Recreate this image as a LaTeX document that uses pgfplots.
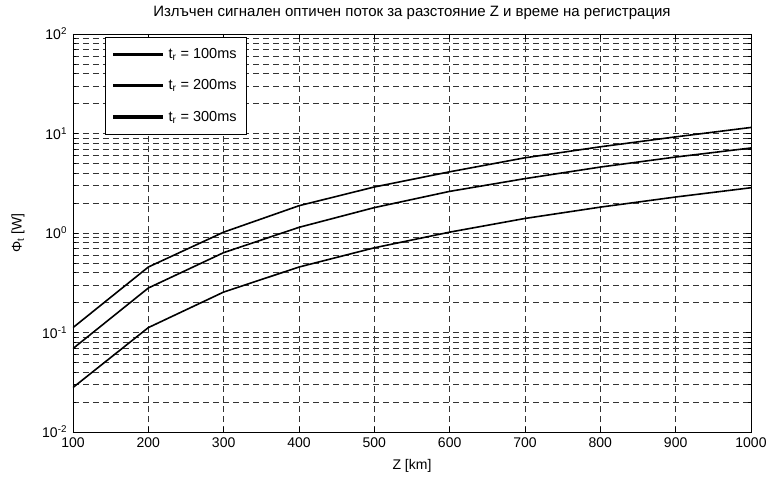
\documentclass[border=0pt]{standalone}
\usepackage{fontspec}
\setmainfont{Liberation Sans}
\usepackage{pgfplots}
\pgfplotsset{compat=1.18}

\pgfplotstableread{
Z     a      b      c
100   0.112  0.069  0.0280
200   0.455  0.280  0.112
300   1.02   0.635  0.255
400   1.88   1.14   0.455
500   2.90   1.80   0.710
600   4.12   2.62   1.02
700   5.70   3.52   1.40
800   7.35   4.60   1.82
900   9.25   5.80   2.30
1000  11.5   7.15   2.85
}\flux

\begin{document}
\fontsize{14.5}{17}\selectfont
\begin{tikzpicture}[x=1pt,y=1pt]
\useasboundingbox (-73,-47) rectangle (696,432);
\begin{axis}[
  scale only axis,
  width=678pt, height=398pt,
  at={(0,0)}, anchor=south west,
  ymode=log,
  xmin=100, xmax=1000, ymin=0.01, ymax=100,
  xtick={100,200,...,1000},
  ytick={0.01,0.1,1,10,100},
  yticklabels={10\textsuperscript{-2},10\textsuperscript{-1},10\textsuperscript{0},10\textsuperscript{1},10\textsuperscript{2}},
  minor ytick={0.02,0.03,0.04,0.05,0.06,0.07,0.08,0.09,0.2,0.3,0.4,0.5,0.6,0.7,0.8,0.9,2,3,4,5,6,7,8,9,20,30,40,50,60,70,80,90},
  /pgf/number format/assume math mode=true,
  /pgf/number format/1000 sep={},
  tick align=inside,
  major tick length=5pt, minor tick length=3pt,
  tick style={black, line width=0.6pt},
  axis line style={black, line width=0.9pt},
  grid=both,
  major grid style={black!80, dash pattern=on 6pt off 4pt, line width=0.6pt},
  minor grid style={black!80, dash pattern=on 6pt off 4pt, line width=0.6pt},
  tick label style={font=\fontsize{14}{16}\selectfont},
  xticklabel style={yshift=-1pt},
  yticklabel style={xshift=-1pt},
  title={Излъчен сигнален оптичен поток за разстояние Z и време на регистрация},
  every axis title/.style={at={(axis description cs:0.5,1.053)}, anchor=center, font=\fontsize{15}{17}\selectfont},
  xlabel={Z [km]},
  xlabel style={at={(axis description cs:0.5,-0.085)}, anchor=center, font=\fontsize{14}{16}\selectfont},
  ylabel={Φ\textsubscript{t} [W]},
  ylabel style={at={(axis description cs:-0.081,0.5)}, anchor=center, font=\fontsize{14}{16}\selectfont},
  legend style={at={(axis description cs:0.047,0.992)}, anchor=north west,
    draw=black, fill=white, font=\fontsize{14.5}{17}\selectfont,
    row sep=15pt, inner xsep=8pt, inner ysep=9pt},
  legend cell align=left,
  legend image code/.code={\fill[black] (0pt,-0.85pt) rectangle (48pt,0.85pt); \path (52pt,0pt);},
]
\addplot[black, line width=1.6pt] table[x=Z, y=a] {\flux};
\addplot[black, line width=1.6pt] table[x=Z, y=b] {\flux};
\addplot[black, line width=1.6pt] table[x=Z, y=c] {\flux};
\legend{t\textsubscript{r} = 100ms, t\textsubscript{r} = 200ms, t\textsubscript{r} = 300ms}
\end{axis}
\end{tikzpicture}
\end{document}
